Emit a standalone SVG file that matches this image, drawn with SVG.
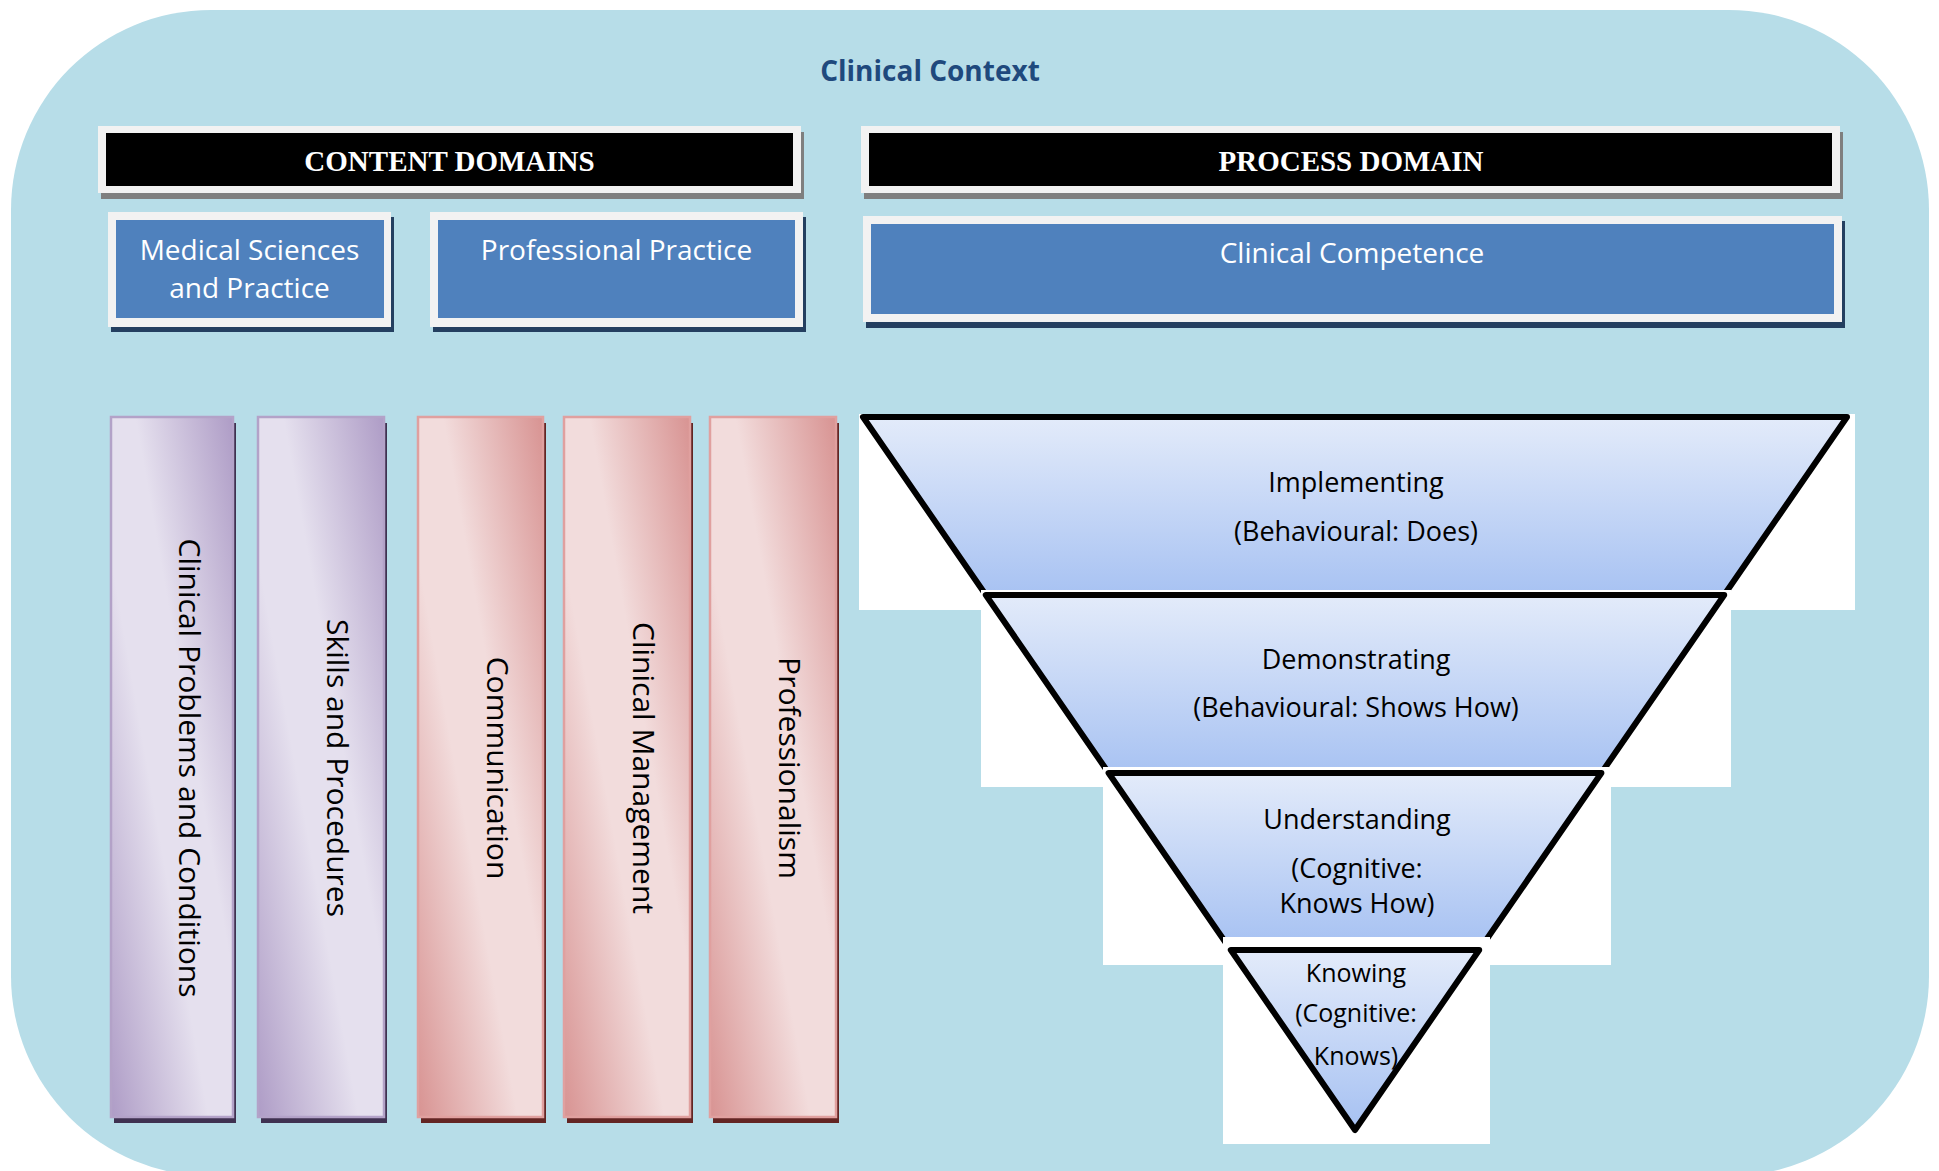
<svg xmlns="http://www.w3.org/2000/svg" width="1939" height="1171" viewBox="0 0 1939 1171">
  <defs>
    <!-- diagonal, mirrored shading for the domain bars -->
    <linearGradient id="gPurple" x1="1" y1="0" x2="0" y2="1">
      <stop offset="0" stop-color="#AE9CC6"/>
      <stop offset="0.4" stop-color="#E5E0EE"/>
      <stop offset="0.6" stop-color="#E5E0EE"/>
      <stop offset="1" stop-color="#AE9CC6"/>
    </linearGradient>
    <linearGradient id="gPink" x1="1" y1="0" x2="0" y2="1">
      <stop offset="0" stop-color="#D89392"/>
      <stop offset="0.4" stop-color="#F2DCDC"/>
      <stop offset="0.6" stop-color="#F2DCDC"/>
      <stop offset="1" stop-color="#D89392"/>
    </linearGradient>
    <!-- vertical shading for the funnel levels -->
    <linearGradient id="gLevel" x1="0" y1="0" x2="0" y2="1">
      <stop offset="0" stop-color="#E3EBFA"/>
      <stop offset="1" stop-color="#A6C1F2"/>
    </linearGradient>
  </defs>
  <style>
    .bg { fill: #B7DDE8; }
    .frame { fill: #F2F2F2; }
    .hdr { fill: #000000; }
    .hshadow { fill: #7F7F7F; }
    .bshadow { fill: #243F60; }
    .blue { fill: #4F81BD; }
    .pshadow { fill: #3F3151; }
    .rshadow { fill: #632523; }
    .barP { fill: url(#gPurple); stroke: #B3A2C8; stroke-width: 2.5; }
    .barR { fill: url(#gPink); stroke: #E0A09F; stroke-width: 2.5; }
    .paper { fill: #FFFFFF; }
    .level { fill: url(#gLevel); stroke: #000000; stroke-width: 6; stroke-linejoin: round; }
    .title { font-family: "Open Sans", "Liberation Sans", sans-serif; font-weight: bold; font-size: 28px; fill: #1F497D; text-anchor: middle; }
    .hdrtxt { font-family: "Liberation Serif", serif; font-weight: bold; font-size: 29px; fill: #FFFFFF; text-anchor: middle; }
    .boxtxt { font-family: "Open Sans", "Liberation Sans", sans-serif; font-size: 28px; fill: #FFFFFF; text-anchor: middle; }
    .bartxt { font-family: "Open Sans", "Liberation Sans", sans-serif; font-size: 30px; fill: #000000; text-anchor: middle; }
    .lvltxt { font-family: "Open Sans", "Liberation Sans", sans-serif; font-size: 27px; fill: #000000; text-anchor: middle; }
    .lvlsm { font-size: 25px; }
  </style>

  <!-- clinical context backdrop -->
  <g id="clinical-context">
    <rect class="bg" x="11" y="10" width="1918" height="1166" rx="200" ry="200"/>
    <text class="title" x="930" y="81">Clinical Context</text>
  </g>

  <!-- section headers -->
  <g id="content-domains">
    <rect class="hshadow" x="101" y="132" width="703" height="67"/>
    <rect class="frame" x="98" y="126" width="703" height="67"/>
    <rect class="hdr" x="106" y="133" width="687" height="53"/>
    <text class="hdrtxt" x="449.5" y="171">CONTENT DOMAINS</text>
  </g>
  <g id="process-domain">
    <rect class="hshadow" x="864" y="132" width="979" height="67"/>
    <rect class="frame" x="861" y="126" width="979" height="67"/>
    <rect class="hdr" x="869" y="133" width="963" height="53"/>
    <text class="hdrtxt" x="1351" y="171">PROCESS DOMAIN</text>
  </g>

  <!-- blue category boxes -->
  <g id="medical-sciences">
    <rect class="bshadow" x="111" y="217" width="283" height="115"/>
    <rect class="frame" x="108" y="212" width="283" height="115"/>
    <rect class="blue" x="116" y="220" width="268" height="98"/>
    <text class="boxtxt" x="249.5" y="260">Medical Sciences</text>
    <text class="boxtxt" x="249.5" y="298">and Practice</text>
  </g>
  <g id="professional-practice">
    <rect class="bshadow" x="433" y="217" width="373" height="115"/>
    <rect class="frame" x="430" y="212" width="373" height="115"/>
    <rect class="blue" x="438" y="220" width="357" height="98"/>
    <text class="boxtxt" x="616.5" y="260">Professional Practice</text>
  </g>
  <g id="clinical-competence">
    <rect class="bshadow" x="866" y="221" width="979" height="107"/>
    <rect class="frame" x="863" y="216" width="979" height="106"/>
    <rect class="blue" x="871" y="224" width="963" height="90"/>
    <text class="boxtxt" x="1352" y="263">Clinical Competence</text>
  </g>

  <!-- content domain bars -->
  <g id="bar-clinical-problems">
    <rect class="pshadow" x="114" y="423" width="122" height="700"/>
    <rect class="barP" x="111" y="417" width="122" height="700"/>
    <text class="bartxt" transform="translate(179 768) rotate(90)">Clinical Problems and Conditions</text>
  </g>
  <g id="bar-skills">
    <rect class="pshadow" x="261" y="423" width="126" height="700"/>
    <rect class="barP" x="258" y="417" width="126" height="700"/>
    <text class="bartxt" transform="translate(327 768) rotate(90)">Skills and Procedures</text>
  </g>
  <g id="bar-communication">
    <rect class="rshadow" x="421" y="423" width="125" height="700"/>
    <rect class="barR" x="418" y="417" width="125" height="700"/>
    <text class="bartxt" transform="translate(486.5 768) rotate(90)">Communication</text>
  </g>
  <g id="bar-clinical-management">
    <rect class="rshadow" x="567" y="423" width="126" height="700"/>
    <rect class="barR" x="564" y="417" width="126" height="700"/>
    <text class="bartxt" transform="translate(633 768) rotate(90)">Clinical Management</text>
  </g>
  <g id="bar-professionalism">
    <rect class="rshadow" x="713" y="423" width="126" height="700"/>
    <rect class="barR" x="710" y="417" width="126" height="700"/>
    <text class="bartxt" transform="translate(779 768) rotate(90)">Professionalism</text>
  </g>

  <!-- process funnel, widest level first; each level sits on its own white card -->
  <g id="level-implementing">
    <rect class="paper" x="859" y="414" width="996" height="196"/>
    <polygon class="level" points="863,417 1847,417 1720.7,600 989.3,600"/>
    <text class="lvltxt" x="1356" y="492">Implementing</text>
    <text class="lvltxt" x="1356" y="541">(Behavioural: Does)</text>
  </g>
  <g id="level-demonstrating">
    <rect class="paper" x="981" y="590" width="750" height="197"/>
    <polygon class="level" points="985.8,595 1724.2,595 1596.5,780 1113.5,780"/>
    <text class="lvltxt" x="1356" y="669">Demonstrating</text>
    <text class="lvltxt" x="1356" y="717">(Behavioural: Shows How)</text>
  </g>
  <g id="level-understanding">
    <rect class="paper" x="1103" y="767" width="508" height="198"/>
    <polygon class="level" points="1108.6,773 1601.4,773 1480.6,948 1229.4,948"/>
    <text class="lvltxt" x="1357" y="829">Understanding</text>
    <text class="lvltxt" x="1357" y="878">(Cognitive:</text>
    <text class="lvltxt" x="1357" y="913">Knows How)</text>
  </g>
  <g id="level-knowing">
    <rect class="paper" x="1223" y="937" width="267" height="207"/>
    <polygon class="level" points="1230.8,950 1479.2,950 1355,1130"/>
    <text class="lvltxt lvlsm" x="1356" y="982">Knowing</text>
    <text class="lvltxt lvlsm" x="1356" y="1022">(Cognitive:</text>
    <text class="lvltxt lvlsm" x="1356" y="1065">Knows)</text>
  </g>
</svg>
